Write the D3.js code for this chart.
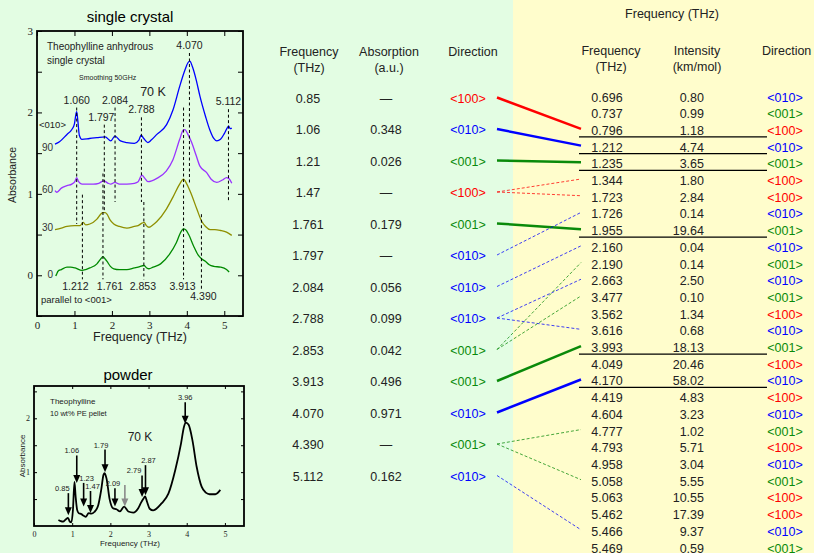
<!DOCTYPE html>
<html>
<head>
<meta charset="utf-8">
<script src="https://cdn.jsdelivr.net/npm/d3@7"></script>
<style>
body { margin: 0; background: #e3fde3; }
svg { display: block; font-family: Arial, "Liberation Sans", sans-serif; }
</style>
</head>
<body>
<svg id="chart" width="814" height="553"></svg>
<script>

// ---------- data ----------
// single crystal spectra [THz, absorbance incl. offset]
var spec90 = [[0.48,1.61],[0.6,1.64],[0.8,1.73],[0.93,1.79],[1.0,1.86],[1.04,1.98],[1.06,2.01],[1.09,1.9],[1.13,1.72],[1.2,1.67],[1.4,1.68],[1.6,1.69],[1.82,1.70],[1.97,1.65],[2.08,1.71],[2.23,1.65],[2.4,1.63],[2.6,1.62],[2.72,1.66],[2.78,1.72],[2.85,1.68],[2.96,1.63],[3.05,1.66],[3.2,1.73],[3.46,1.85],[3.63,2.03],[3.81,2.32],[3.95,2.52],[4.03,2.61],[4.08,2.63],[4.15,2.56],[4.25,2.40],[4.35,2.20],[4.5,1.95],[4.61,1.79],[4.72,1.68],[4.8,1.65],[4.9,1.67],[5.0,1.74],[5.08,1.81],[5.12,1.83],[5.16,1.80],[5.2,1.81]];
var spec60 = [[0.48,1.04],[0.53,1.02],[0.65,1.07],[0.8,1.1],[0.93,1.12],[1.01,1.15],[1.06,1.2],[1.11,1.15],[1.2,1.12],[1.5,1.12],[1.65,1.13],[1.78,1.16],[1.9,1.13],[1.97,1.12],[2.08,1.14],[2.2,1.12],[2.4,1.12],[2.6,1.13],[2.7,1.15],[2.8,1.23],[2.88,1.19],[2.96,1.15],[3.2,1.19],[3.45,1.28],[3.63,1.42],[3.81,1.67],[3.9,1.78],[3.95,1.79],[4.02,1.74],[4.13,1.63],[4.25,1.47],[4.35,1.34],[4.53,1.26],[4.65,1.18],[4.8,1.14],[4.95,1.17],[5.06,1.20],[5.12,1.19],[5.2,1.13]];
var spec30 = [[0.48,0.56],[0.65,0.58],[0.8,0.6],[1.0,0.61],[1.15,0.61],[1.23,0.65],[1.3,0.62],[1.41,0.63],[1.6,0.69],[1.7,0.75],[1.76,0.77],[1.82,0.77],[1.87,0.75],[1.95,0.68],[2.05,0.63],[2.2,0.6],[2.4,0.58],[2.6,0.6],[2.7,0.61],[2.8,0.64],[2.86,0.65],[2.92,0.61],[2.99,0.59],[3.1,0.62],[3.2,0.66],[3.45,0.81],[3.63,0.96],[3.81,1.12],[3.91,1.18],[4.0,1.12],[4.1,1.02],[4.27,0.81],[4.4,0.66],[4.5,0.6],[4.62,0.56],[4.75,0.56],[4.9,0.55],[5.06,0.53],[5.2,0.49]];
var spec0 = [[0.5,-0.01],[0.53,0.02],[0.56,0.05],[0.65,0.07],[0.8,0.1],[0.9,0.1],[1.02,0.09],[1.2,0.06],[1.3,0.07],[1.41,0.09],[1.6,0.14],[1.7,0.2],[1.76,0.23],[1.82,0.2],[1.87,0.17],[1.96,0.11],[2.05,0.08],[2.2,0.07],[2.4,0.07],[2.6,0.09],[2.7,0.1],[2.86,0.12],[2.93,0.09],[2.99,0.08],[3.1,0.1],[3.3,0.14],[3.54,0.26],[3.72,0.4],[3.85,0.54],[3.91,0.57],[3.97,0.56],[4.05,0.5],[4.18,0.36],[4.3,0.25],[4.4,0.2],[4.5,0.17],[4.6,0.13],[4.72,0.11],[4.9,0.1],[5.06,0.07],[5.13,0.04]];
var specAngles = ["90", "60", "30", "0"];
var specAngleY = [1.58, 1.06, 0.59, 0.02];

// dashed peak markers: freq, top, bottom (absorbance)
var markAboveF = [1.060, 1.797, 2.084, 2.788, 4.070, 5.112];
var markAboveTop = [2.06, 1.85, 2.06, 1.94, 2.73, 2.04];
var markAboveBot = [0.63, 0.77, 0.90, 0.90, 1.14, 0.90];
var markBelowF = [1.212, 1.761, 2.853, 3.913, 4.390];
var markBelowTop = [0.99, 1.25, 0.90, 2.06, 0.75];
var markBelowBot = [-0.05, -0.05, -0.05, -0.05, -0.17];

// powder spectrum
var powder = [[0.64,0.11],[0.7,0.09],[0.76,0.08],[0.83,0.12],[0.89,0.15],[0.94,0.08],[0.98,0.07],[1.02,0.3],[1.06,0.82],[1.09,0.55],[1.13,0.3],[1.17,0.24],[1.24,0.22],[1.3,0.19],[1.36,0.17],[1.43,0.24],[1.5,0.23],[1.58,0.26],[1.68,0.38],[1.76,0.67],[1.82,0.95],[1.85,0.98],[1.9,0.88],[1.98,0.5],[2.07,0.33],[2.16,0.31],[2.25,0.27],[2.36,0.36],[2.47,0.27],[2.6,0.25],[2.73,0.33],[2.8,0.43],[2.86,0.5],[2.91,0.55],[2.96,0.45],[3.03,0.32],[3.12,0.29],[3.34,0.42],[3.52,0.6],[3.7,1.04],[3.85,1.53],[3.93,1.85],[3.98,1.92],[4.05,1.88],[4.15,1.59],[4.26,1.1],[4.39,0.73],[4.5,0.62],[4.6,0.59],[4.75,0.59],[4.88,0.67]];
var arrowF = [0.90, 1.12, 1.30, 1.48, 1.86, 2.12, 2.38, 2.83, 2.92, 3.96];
var arrowTip = [0.20, 0.80, 0.36, 0.24, 1.00, 0.36, 0.36, 0.54, 0.57, 1.90];
var arrowTail = [0.61, 1.31, 0.80, 0.65, 1.42, 0.70, 0.76, 0.94, 1.13, 2.30];
var arrowLabel = ["0.85", "1.06", "1.23", "1.47", "1.79", "2.09", "", "2.79", "2.87", "3.96"];

// measured modes (middle table)
var obsFreq = ["0.85","1.06","1.21","1.47","1.761","1.797","2.084","2.788","2.853","3.913","4.070","4.390","5.112"];
var obsAbs = ["\u2014","0.348","0.026","\u2014","0.179","\u2014","0.056","0.099","0.042","0.496","0.971","\u2014","0.162"];
var obsDir = ["<100>","<010>","<001>","<100>","<001>","<010>","<010>","<010>","<001>","<001>","<010>","<001>","<010>"];

// calculated modes (right table)
var calcFreq = ["0.696","0.737","0.796","1.212","1.235","1.344","1.723","1.726","1.955","2.160","2.190","2.663","3.477","3.562","3.616","3.993","4.049","4.170","4.419","4.604","4.777","4.793","4.958","5.058","5.063","5.462","5.466","5.469"];
var calcInt = ["0.80","0.99","1.18","4.74","3.65","1.80","2.84","0.14","19.64","0.04","0.14","2.50","0.10","1.34","0.68","18.13","20.46","58.02","4.83","3.23","1.02","5.71","3.04","5.55","10.55","17.39","9.37","0.59"];
var calcDir = ["<010>","<001>","<100>","<010>","<001>","<100>","<100>","<010>","<001>","<010>","<001>","<010>","<001>","<100>","<010>","<001>","<100>","<010>","<100>","<010>","<001>","<100>","<010>","<001>","<100>","<100>","<010>","<001>"];

// assignments: measured row -> calculated row, solid = firm assignment
var linkFrom = [0, 1, 2, 3, 3, 4, 5, 6, 7, 7, 8, 8, 9, 10, 11, 11, 12];
var linkTo   = [2, 3, 4, 5, 6, 8, 7, 9, 11, 14, 10, 12, 15, 17, 20, 23, 26];
var linkSolid = [1, 1, 1, 0, 0, 1, 0, 0, 0, 0, 0, 0, 1, 1, 0, 0, 0];

// ---------- setup ----------
var svg = d3.select("#chart");
var serif = "'Liberation Serif', 'DejaVu Serif', serif";
var dirColor = d3.scaleOrdinal()
	.domain(["<100>", "<010>", "<001>"])
	.range(["#ff0000", "#0000ff", "#0a8a0a"]);
var specColors = ["#0000ff", "#9933ff", "#8f8f00", "#008a00"];

svg.append("rect").attr("x", 0).attr("y", 0).attr("width", 814).attr("height", 553).attr("fill", "#e3fde3");
svg.append("rect").attr("x", 513).attr("y", 0).attr("width", 301).attr("height", 553).attr("fill", "#fffdcc");

function frame(g, x, y, yTicks, yLabels, xTicks, fs, tick) {
	var x0 = x.range()[0], x1 = x.range()[1], y0 = y.range()[0], y1 = y.range()[1];
	var fmt = function(d) { return yLabels.indexOf(d) >= 0 ? d : ""; };
	g.append("g").attr("transform", "translate(" + x0 + ",0)")
		.call(d3.axisLeft(y).tickValues(yTicks).tickSizeInner(-tick).tickSizeOuter(0).tickPadding(4).tickFormat(fmt));
	g.append("g").attr("transform", "translate(" + x1 + ",0)")
		.call(d3.axisRight(y).tickValues(yTicks).tickSizeInner(-tick).tickSizeOuter(0).tickFormat(""));
	g.append("g").attr("transform", "translate(0," + y0 + ")")
		.call(d3.axisBottom(x).tickValues(xTicks).tickSizeInner(-tick).tickSizeOuter(0).tickPadding(5).tickFormat(d3.format("d")));
	g.append("g").attr("transform", "translate(0," + y1 + ")")
		.call(d3.axisTop(x).tickValues(xTicks).tickSizeInner(-tick).tickSizeOuter(0).tickFormat(""));
	g.selectAll(".domain").remove();
	g.selectAll(".tick line").attr("stroke", "#000").attr("stroke-width", 1);
	g.selectAll(".tick text").attr("font-family", serif).attr("font-size", fs).attr("fill", "#222");
	g.append("rect")
		.attr("x", x0).attr("y", y1).attr("width", x1 - x0).attr("height", y0 - y1)
		.attr("fill", "none").attr("stroke", "#000").attr("stroke-width", 1.8);
}

// ---------- single crystal ----------
var xS = d3.scaleLinear().domain([0, 5.5]).range([37, 243]);
var yS = d3.scaleLinear().domain([-0.5, 3]).range([316, 31]);
var gS = svg.append("g");

frame(gS, xS, yS, [-0.5,0,0.5,1,1.5,2,2.5,3], [0,1,2,3], [0,1,2,3,4,5], 11, 5);

var lineS = d3.line().x(function(d) { return xS(d[0]); }).y(function(d) { return yS(d[1]); }).curve(d3.curveMonotoneX);

[spec90, spec60, spec30, spec0].forEach(function(s, i) {
	gS.append("path").datum(s).attr("d", lineS)
		.attr("fill", "none").attr("stroke", specColors[i]).attr("stroke-width", 1.3);
	gS.append("text").attr("x", xS(0.43)).attr("y", yS(specAngleY[i]) + 4)
		.attr("text-anchor", "end").attr("font-size", 10).attr("fill", "#333").text(specAngles[i]);
});

var dash = "3,2.5";
markAboveF.forEach(function(f, i) {
	gS.append("line").attr("x1", xS(f)).attr("x2", xS(f))
		.attr("y1", yS(markAboveTop[i])).attr("y2", yS(markAboveBot[i]))
		.attr("stroke", "#000").attr("stroke-dasharray", dash);
	gS.append("text").attr("x", xS(f) + (i === 1 ? -3 : 0)).attr("y", yS(markAboveTop[i]) - 4)
		.attr("text-anchor", "middle").attr("font-size", 10.5).attr("fill", "#222")
		.text(f.toFixed(3));
});
var belowDx = [-7, 7, -1, -1, 2];
markBelowF.forEach(function(f, i) {
	gS.append("line").attr("x1", xS(f)).attr("x2", xS(f))
		.attr("y1", yS(markBelowTop[i])).attr("y2", yS(markBelowBot[i]))
		.attr("stroke", "#000").attr("stroke-dasharray", dash);
	gS.append("text").attr("x", xS(f) + belowDx[i]).attr("y", yS(markBelowBot[i]) + 11)
		.attr("text-anchor", "middle").attr("font-size", 10.5).attr("fill", "#222")
		.text(f.toFixed(3));
});

gS.append("text").attr("x", 130).attr("y", 22).attr("text-anchor", "middle").attr("font-size", 15).text("single crystal");
gS.append("text").attr("x", 47).attr("y", 50).attr("font-size", 10).attr("fill", "#222").text("Theophylline anhydrous");
gS.append("text").attr("x", 47).attr("y", 64).attr("font-size", 10).attr("fill", "#222").text("single crystal");
gS.append("text").attr("x", 79).attr("y", 80).attr("font-size", 7).attr("fill", "#222").text("Smoothing 50GHz");
gS.append("text").attr("x", 153).attr("y", 96).attr("text-anchor", "middle").attr("font-size", 12.5).attr("fill", "#222").text("70 K");
gS.append("text").attr("x", 39).attr("y", 128).attr("font-size", 9.5).attr("fill", "#222").text("<010>");
gS.append("text").attr("x", 41).attr("y", 303).attr("font-size", 9.5).attr("fill", "#222").text("parallel to <001>");
gS.append("text").attr("x", 140).attr("y", 341).attr("text-anchor", "middle").attr("font-size", 12.5).attr("fill", "#222").text("Frequency (THz)");
gS.append("text").attr("transform", "translate(16,175) rotate(-90)").attr("text-anchor", "middle")
	.attr("font-size", 10.5).attr("fill", "#222").text("Absorbance");

// ---------- powder ----------
var xP = d3.scaleLinear().domain([0, 5.5]).range([34, 244]);
var yP = d3.scaleLinear().domain([0, 2.6]).range([526, 386]);
var gP = svg.append("g");

frame(gP, xP, yP, [0.5,1,1.5,2,2.5], [1,2], [0,1,2,3,4,5], 8, 3);

var lineP = d3.line().x(function(d) { return xP(d[0]); }).y(function(d) { return yP(d[1]); }).curve(d3.curveMonotoneX);
gP.append("path").datum(powder).attr("d", lineP)
	.attr("fill", "none").attr("stroke", "#000").attr("stroke-width", 1.8);

var labelDx = [-6, -5, 3, 2, -4, -2, 0, -8, 3, 0];
arrowF.forEach(function(f, i) {
	var col = arrowLabel[i] === "" ? "#8a8a8a" : "#000";
	var x = xP(f), yt = yP(arrowTip[i]), yb = yP(arrowTail[i]);
	gP.append("line").attr("x1", x).attr("x2", x).attr("y1", yb).attr("y2", yt - 6)
		.attr("stroke", col).attr("stroke-width", 1.6);
	gP.append("path").attr("d", "M" + (x - 3.5) + "," + (yt - 8) + "L" + (x + 3.5) + "," + (yt - 8) + "L" + x + "," + yt + "Z")
		.attr("fill", col);
	if (arrowLabel[i] !== "") {
		gP.append("text").attr("x", x + labelDx[i]).attr("y", yb - 2)
			.attr("text-anchor", "middle").attr("font-size", 7.5).attr("fill", "#222").text(arrowLabel[i]);
	}
});

gP.append("text").attr("x", 128).attr("y", 380).attr("text-anchor", "middle").attr("font-size", 15).text("powder");
gP.append("text").attr("x", 50).attr("y", 404).attr("font-size", 8).attr("fill", "#222").text("Theophylline");
gP.append("text").attr("x", 50).attr("y", 416).attr("font-size", 7.5).attr("fill", "#222").text("10 wt% PE pellet");
gP.append("text").attr("x", 140).attr("y", 441).attr("text-anchor", "middle").attr("font-size", 12).attr("fill", "#222").text("70 K");
gP.append("text").attr("x", 130).attr("y", 546).attr("text-anchor", "middle").attr("font-size", 8).attr("fill", "#222").text("Frequency (THz)");
gP.append("text").attr("transform", "translate(25,456) rotate(-90)").attr("text-anchor", "middle")
	.attr("font-size", 8).attr("fill", "#222").text("Absorbance");

// ---------- measured table ----------
var rowObs = d3.scaleLinear().domain([0, obsFreq.length - 1]).range([98, 476]);
var rowCalc = d3.scaleLinear().domain([0, calcFreq.length - 1]).range([97, 548]);
var fs = 12.5, base = 4.5;
var gT = svg.append("g").attr("font-size", fs).attr("fill", "#222");

[["Frequency", 309, 51], ["(THz)", 309, 67], ["Absorption", 389, 51], ["(a.u.)", 389, 67], ["Direction", 473, 51]].forEach(function(h) {
	gT.append("text").attr("x", h[1]).attr("y", h[2] + base).attr("text-anchor", "middle").text(h[0]);
});
obsFreq.forEach(function(f, i) {
	var y = rowObs(i) + base;
	gT.append("text").attr("x", 308).attr("y", y).attr("text-anchor", "middle").text(f);
	gT.append("text").attr("x", 386).attr("y", y).attr("text-anchor", "middle").text(obsAbs[i]);
	gT.append("text").attr("x", 468).attr("y", y).attr("text-anchor", "middle")
		.attr("fill", dirColor(obsDir[i])).text(obsDir[i]);
});

// ---------- calculated table ----------
gT.append("text").attr("x", 672).attr("y", 13 + base).attr("text-anchor", "middle").text("Frequency (THz)");
[["Frequency", 611, 50, "middle"], ["(THz)", 611, 66, "middle"], ["Intensity", 697, 50, "middle"], ["(km/mol)", 697, 66, "middle"], ["Direction", 762, 50, "start"]].forEach(function(h) {
	gT.append("text").attr("x", h[1]).attr("y", h[2] + base).attr("text-anchor", h[3]).text(h[0]);
});
calcFreq.forEach(function(f, i) {
	var y = rowCalc(i) + base;
	gT.append("text").attr("x", 607).attr("y", y).attr("text-anchor", "middle").text(f);
	gT.append("text").attr("x", 704).attr("y", y).attr("text-anchor", "end").text(calcInt[i]);
	gT.append("text").attr("x", 785).attr("y", y).attr("text-anchor", "middle")
		.attr("fill", dirColor(calcDir[i])).text(calcDir[i]);
});

// underline firmly assigned calculated modes
linkTo.forEach(function(t, i) {
	if (!linkSolid[i]) return;
	svg.append("line").attr("x1", 579).attr("x2", 767)
		.attr("y1", rowCalc(t) + 6.5).attr("y2", rowCalc(t) + 6.5)
		.attr("stroke", "#000").attr("stroke-width", 1.2);
});

// ---------- assignment links ----------
linkFrom.forEach(function(s, i) {
	var col = dirColor(obsDir[s]);
	var l = svg.append("line")
		.attr("x1", 497).attr("y1", rowObs(s) - 0.5)
		.attr("x2", 581).attr("y2", rowCalc(linkTo[i]) - 1.5)
		.attr("stroke", col);
	if (linkSolid[i]) {
		l.attr("stroke-width", 2.5);
	} else {
		l.attr("stroke-width", 1).attr("stroke-dasharray", "3,2").attr("opacity", 0.75);
	}
});

</script>
</body>
</html>
